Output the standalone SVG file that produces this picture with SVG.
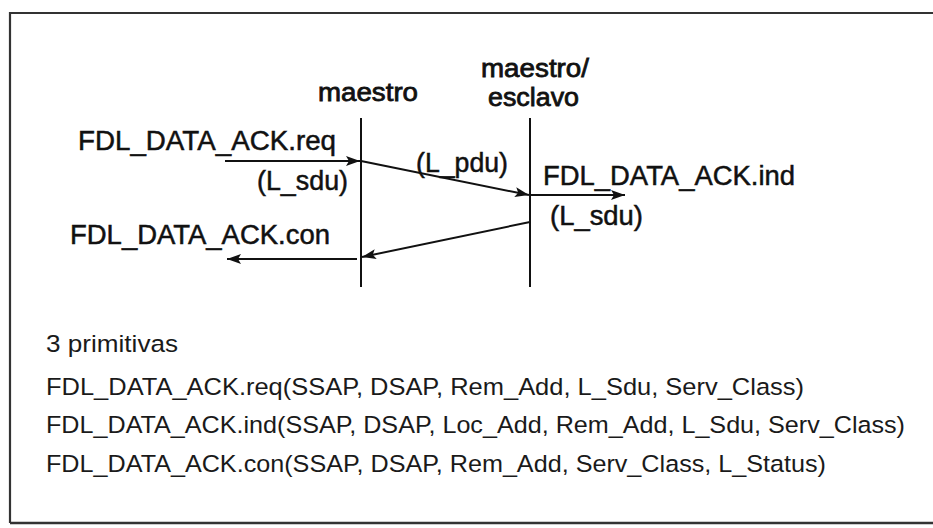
<svg xmlns="http://www.w3.org/2000/svg" width="933" height="528" viewBox="0 0 933 528">
  <style>
    .lbl { font-family: "Liberation Sans", Arial, sans-serif; font-size: 27px; fill: #111; stroke: #111; stroke-width: 0.5px; }
    .hdr { font-family: "Liberation Sans", Arial, sans-serif; font-size: 26px; fill: #111; stroke: #111; stroke-width: 0.8px; }
    .prim { font-family: "Liberation Sans", Arial, sans-serif; font-size: 24.5px; fill: #1a1a1a; }
    .life { stroke: #111; stroke-width: 2; fill: none; }
    .msg { stroke: #111; stroke-width: 2; fill: none; marker-end: url(#ah); }
  </style>
  <defs>
    <marker id="ah" markerUnits="userSpaceOnUse" markerWidth="16" markerHeight="12" refX="14" refY="6" orient="auto">
      <path d="M0,1 L14,6 L0,11 L3,6 Z" fill="#111"/>
    </marker>
  </defs>
  <rect width="933" height="528" fill="#fff"/>
  <g id="frame">
    <path d="M10,523 L10,13 L933,13" stroke="#333" stroke-width="2.2" fill="none"/>
    <path d="M10,523 L933,523" stroke="#333" stroke-width="2.5" fill="none"/>
  </g>
  <g id="maestro">
    <text class="hdr" x="318" y="101" textLength="100" lengthAdjust="spacingAndGlyphs">maestro</text>
    <line class="life" x1="361" y1="118" x2="361" y2="287"/>
  </g>
  <g id="maestro-esclavo">
    <text class="hdr" x="481" y="77" textLength="108" lengthAdjust="spacingAndGlyphs">maestro/</text>
    <text class="hdr" x="488" y="106" textLength="91" lengthAdjust="spacingAndGlyphs">esclavo</text>
    <line class="life" x1="530" y1="118" x2="530" y2="287"/>
  </g>
  <g id="labels">
    <text class="lbl" x="78" y="150" textLength="258" lengthAdjust="spacingAndGlyphs">FDL_DATA_ACK.req</text>
    <text class="lbl" x="257" y="190" textLength="91" lengthAdjust="spacingAndGlyphs">(L_sdu)</text>
    <text class="lbl" x="416" y="172" textLength="92" lengthAdjust="spacingAndGlyphs">(L_pdu)</text>
    <text class="lbl" x="543" y="185" textLength="252" lengthAdjust="spacingAndGlyphs">FDL_DATA_ACK.ind</text>
    <text class="lbl" x="550" y="225" textLength="93" lengthAdjust="spacingAndGlyphs">(L_sdu)</text>
    <text class="lbl" x="70" y="244" textLength="260" lengthAdjust="spacingAndGlyphs">FDL_DATA_ACK.con</text>
  </g>
  <g id="connectors">
    <line class="msg" x1="225" y1="161" x2="360" y2="161"/>
    <line class="msg" x1="361" y1="161" x2="529" y2="195"/>
    <line class="msg" x1="531" y1="195" x2="625" y2="195"/>
    <line class="msg" x1="530" y1="222" x2="362" y2="257"/>
    <line class="msg" x1="357" y1="259" x2="227" y2="259"/>
  </g>
  <g id="primitivas">
    <text class="prim" x="46" y="352" textLength="132" lengthAdjust="spacingAndGlyphs">3 primitivas</text>
    <text class="prim" x="46" y="395" textLength="758" lengthAdjust="spacingAndGlyphs">FDL_DATA_ACK.req(SSAP, DSAP, Rem_Add, L_Sdu, Serv_Class)</text>
    <text class="prim" x="46" y="433" textLength="859" lengthAdjust="spacingAndGlyphs">FDL_DATA_ACK.ind(SSAP, DSAP, Loc_Add, Rem_Add, L_Sdu, Serv_Class)</text>
    <text class="prim" x="46" y="472" textLength="780" lengthAdjust="spacingAndGlyphs">FDL_DATA_ACK.con(SSAP, DSAP, Rem_Add, Serv_Class, L_Status)</text>
  </g>
</svg>
